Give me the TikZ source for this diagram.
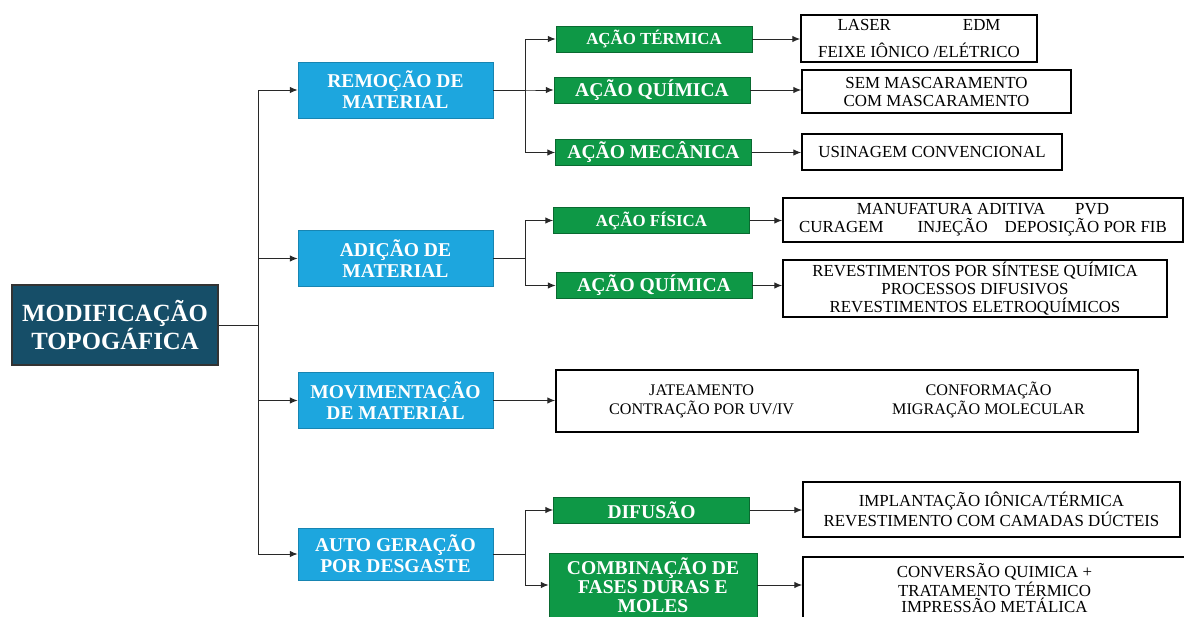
\documentclass[tikz,border=0pt]{standalone}
\usepackage{fontspec}
\setmainfont{Liberation Serif}
\usetikzlibrary{arrows.meta, positioning}
\definecolor{rootbg}{RGB}{22, 78, 104}
\definecolor{areabg}{RGB}{29, 166, 222}
\definecolor{acaobg}{RGB}{14, 152, 70}
\definecolor{linecol}{RGB}{40, 40, 40}

\begin{document}
\begin{tikzpicture}[
            x=0.025cm, y=-0.025cm,
            rootbox/.style={rectangle, draw=black!80, line width=1pt, fill=rootbg, text=white, align=center,
                minimum width=5.15cm, minimum height=2cm, font=\fontsize{17.6}{20}\selectfont\bfseries},
            areabox/.style={rectangle, draw=areabg!80!black, fill=areabg, text=white, align=center, inner sep=1pt,
                minimum width=4.875cm, minimum height=1.4cm, font=\fontsize{13.9}{15}\selectfont\bfseries},
            acaobox/.style={rectangle, draw=acaobg!70!black, fill=acaobg, text=white, align=center, inner sep=1pt,
                minimum width=4.9cm, minimum height=0.65cm, font=\fontsize{13.9}{15.6}\selectfont\bfseries},
            techbox/.style={rectangle, draw=black, line width=1.1pt, fill=white, align=center, inner sep=1pt,
                font=\fontsize{12}{12.8}\selectfont},
            conn/.style={draw=linecol, line width=0.7pt, -{Latex[length=5.5pt, width=4.5pt]}}
        ]
            \clip (0,0) rectangle (1184,617);

            % ROOT
            \node[rootbox] (root) at (115,325) {MODIFICAÇÃO\\TOPOGÁFICA};

            % AREAS
            \node[areabox] (remocao) at (395.5,90) {REMOÇÃO DE\\MATERIAL};
            \node[areabox] (adicao) at (395.5,258.5) {ADIÇÃO DE\\MATERIAL};
            \node[areabox] (movimento) at (395.5,400.5) {MOVIMENTAÇÃO\\DE MATERIAL};
            \node[areabox, minimum height=1.3cm] (autoger) at (395.5,554) {AUTO GERAÇÃO\\POR DESGASTE};

            % REMOCAO
            \node[acaobox, font=\fontsize{12}{14}\selectfont\bfseries] (termica) at (654,39) {AÇÃO TÉRMICA};
            \node[acaobox] (quimrem) at (652,90) {AÇÃO QUÍMICA};
            \node[acaobox] (mecanica) at (653.5,152.5) {AÇÃO MECÂNICA};
            \node[techbox, minimum width=5.9cm, minimum height=1.175cm] (laser) at (919,38.5)
            {LASER\hspace{1.8cm}EDM\\[6pt]FEIXE IÔNICO /ELÉTRICO};
            \node[techbox, minimum width=6.725cm, minimum height=1.075cm] (mascara) at (936.5,91.5)
            {SEM MASCARAMENTO\\COM MASCARAMENTO};
            \node[techbox, minimum width=6.5cm, minimum height=0.9cm] (usinagem) at (932,152)
            {USINAGEM CONVENCIONAL};

            % ADICAO
            \node[acaobox, font=\fontsize{12}{14}\selectfont\bfseries] (fisica) at (651.5,220.5) {AÇÃO FÍSICA};
            \node[acaobox] (quimadi) at (654,285.5) {AÇÃO QUÍMICA};
            \node[techbox, minimum width=10cm, minimum height=1.1cm] (manufatura) at (983,220)
            {MANUFATURA ADITIVA\hspace{0.75cm}PVD\\
             CURAGEM\hspace{0.85cm}INJEÇÃO\hspace{0.42cm}DEPOSIÇÃO POR FIB};
            \node[techbox, minimum width=9.6cm, minimum height=1.425cm] (revest) at (975,288.5)
            {REVESTIMENTOS POR SÍNTESE QUÍMICA\\
             PROCESSOS DIFUSIVOS\\
             REVESTIMENTOS ELETROQUÍMICOS};

            % MOVIMENTACAO
            \node[techbox, minimum width=14.55cm, minimum height=1.55cm,
                  font=\fontsize{11.5}{14.2}\selectfont] (jateamento) at (847,401)
            {\begin{tabular}{c@{\hspace{2.45cm}}c}
                JATEAMENTO & CONFORMAÇÃO\\
                CONTRAÇÃO POR UV/IV & MIGRAÇÃO MOLECULAR
             \end{tabular}};

            % AUTO GERACAO
            \node[acaobox] (difusao) at (651.5,510) {DIFUSÃO};
            \node[acaobox, minimum width=5.2cm, minimum height=1.6cm,
                  font=\fontsize{13.9}{13.6}\selectfont\bfseries] (fases) at (653,585)
            {COMBINAÇÃO DE\\FASES DURAS E\\MOLES};
            \node[techbox, minimum width=9.425cm, minimum height=1.375cm] (implanta) at (991.5,509.5)
            {IMPLANTAÇÃO IÔNICA/TÉRMICA\\REVESTIMENTO COM CAMADAS DÚCTEIS};
            \node[techbox, minimum width=9.575cm, minimum height=1.55cm,
                  font=\fontsize{12}{11}\selectfont] (conversao) at (994.5,588)
            {CONVERSÃO QUIMICA +\\TRATAMENTO TÉRMICO\\IMPRESSÃO METÁLICA};

            % Connections
            \draw[conn] (root.east) -- ++(40,0) |- (remocao.west);
            \draw[conn] (root.east) -- ++(40,0) |- (adicao.west);
            \draw[conn] (root.east) -- ++(40,0) |- (movimento.west);
            \draw[conn] (root.east) -- ++(40,0) |- (autoger.west);

            \draw[conn] (remocao.east) -- ++(32,0) |- (termica.west);
            \draw[conn] (remocao.east) -- ++(32,0) |- (quimrem.west);
            \draw[conn] (remocao.east) -- ++(32,0) |- (mecanica.west);
            \draw[conn] (adicao.east) -- ++(32,0) |- (fisica.west);
            \draw[conn] (adicao.east) -- ++(32,0) |- (quimadi.west);
            \draw[conn] (autoger.east) -- ++(32,0) |- (difusao.west);
            \draw[conn] (autoger.east) -- ++(32,0) |- (fases.west);
            \draw[conn] (movimento.east) -- (movimento.east -| jateamento.west);

            \draw[conn] (termica.east) -- (termica.east -| laser.west);
            \draw[conn] (quimrem.east) -- (quimrem.east -| mascara.west);
            \draw[conn] (mecanica.east) -- (mecanica.east -| usinagem.west);
            \draw[conn] (fisica.east) -- (fisica.east -| manufatura.west);
            \draw[conn] (quimadi.east) -- (quimadi.east -| revest.west);
            \draw[conn] (difusao.east) -- (difusao.east -| implanta.west);
            \draw[conn] (fases.east) -- (fases.east -| conversao.west);
        \end{tikzpicture}
\end{document}
